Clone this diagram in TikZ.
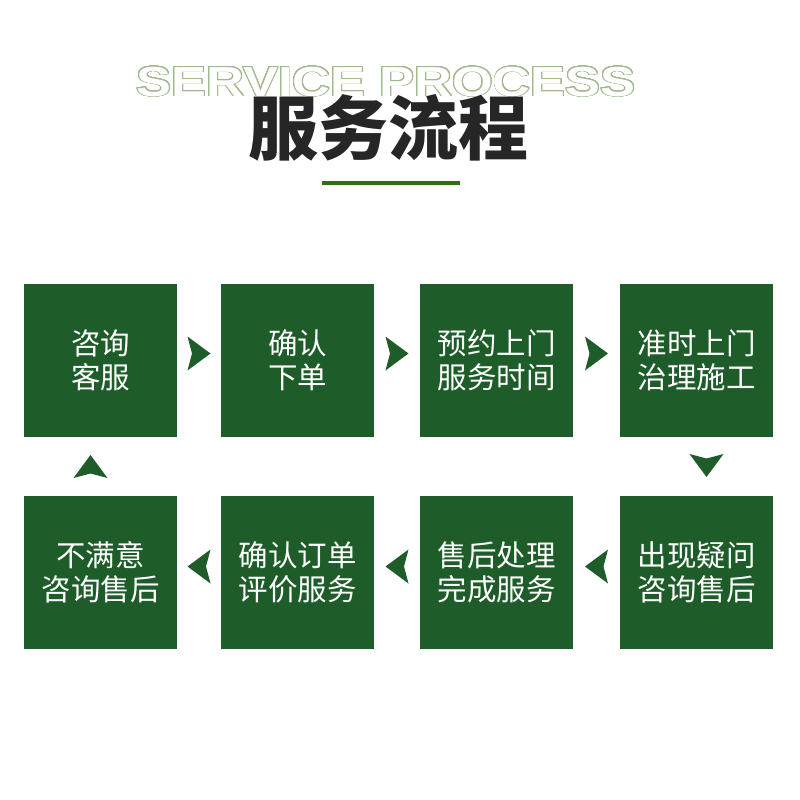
\documentclass[tikz,border=0pt]{standalone}
\usepackage{fontspec}
\usepackage{xcolor}
\usepackage{tikz}
\usepackage[copies]{contour}
\usetikzlibrary{calc}
\newfontfamily\cjk{Noto Sans CJK SC}
\newfontfamily\titlesans{Liberation Sans}
\definecolor{boxgreen}{HTML}{1E5C2A}
\definecolor{rulegreen}{HTML}{2F6E17}
\definecolor{outlinegreen}{HTML}{9FBB8B}
\definecolor{titleblack}{HTML}{262626}
\contourlength{0.75pt}
\contournumber{32}

\begin{document}
\begin{tikzpicture}[x=1pt,y=-1pt,
  box/.style={rectangle,fill=boxgreen,
    minimum width=153pt,minimum height=153pt,inner sep=0pt,
    align=center,text=white,font=\cjk\fontsize{29.5}{34}\selectfont},
  pics/flowtip/.style={code={
    \fill[boxgreen] (11.5,0) -- (-11.5,-17) -- (-7,0) -- (-11.5,17) -- cycle;}}]

  \useasboundingbox[fill=white] (0,0) rectangle (800,800);

  % heading
  \node[text=white,font=\titlesans\bfseries\fontsize{42}{42}\selectfont] (entitle) at (386,82)
    {\scalebox{1.245}[1]{\contour{outlinegreen}{SERVICE PROCESS}}};
  \node[text=titleblack,font=\cjk\bfseries\fontsize{70}{70}\selectfont] (cntitle) at (388,128) {服务流程};
  \draw[rulegreen,line width=4.5pt] (322,183) -- (460,183);

  \node[box] (consult) at (100.5,360.5) {咨询\\客服};
  \node[box] (confirm) at (297.5,360.5) {确认\\下单};
  \node[box] (booking) at (496.5,360.5) {预约上门\\服务时间};
  \node[box] (onsite) at (696.5,360.5) {准时上门\\治理施工};

  \node[box] (question) at (696.5,572.5) {出现疑问\\咨询售后};
  \node[box] (aftersale) at (496.5,572.5) {售后处理\\完成服务};
  \node[box] (review) at (297.5,572.5) {确认订单\\评价服务};
  \node[box] (revisit) at (100.5,572.5) {不满意\\咨询售后};

  \pic at ($(consult.east)!0.5!(confirm.west)+(0,-7)$) {flowtip};
  \pic at ($(confirm.east)!0.5!(booking.west)+(0,-7)$) {flowtip};
  \pic at ($(booking.east)!0.5!(onsite.west)+(0,-7)$) {flowtip};
  \pic[rotate=-90] at ($(onsite.south)!0.5!(question.north)+(10,-1)$) {flowtip};
  \pic[rotate=180] at ($(question.west)!0.5!(aftersale.east)+(0,-6)$) {flowtip};
  \pic[rotate=180] at ($(aftersale.west)!0.5!(review.east)+(0,-6)$) {flowtip};
  \pic[rotate=180] at ($(review.west)!0.5!(revisit.east)+(0,-6)$) {flowtip};
  \pic[rotate=90] at ($(revisit.north)!0.5!(consult.south)+(-10,0)$) {flowtip};
\end{tikzpicture}
\end{document}
